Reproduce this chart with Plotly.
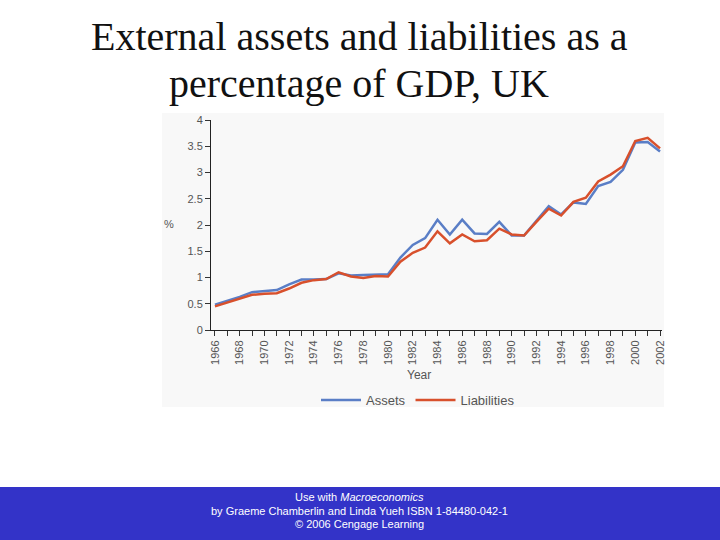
import plotly.graph_objects as go

years = list(range(1966, 2003))
assets = [0.48, 0.55, 0.63, 0.72, 0.74, 0.76, 0.87, 0.96, 0.96, 0.97,
          1.08, 1.04, 1.05, 1.06, 1.06, 1.38, 1.62, 1.75, 2.10, 1.82,
          2.10, 1.84, 1.83, 2.06, 1.80, 1.80, 2.08, 2.36, 2.20, 2.43,
          2.40, 2.74, 2.82, 3.05, 3.57, 3.58, 3.40]
liabilities = [0.45, 0.52, 0.60, 0.67, 0.69, 0.70, 0.79, 0.90, 0.95, 0.97,
               1.10, 1.02, 0.99, 1.03, 1.02, 1.30, 1.47, 1.57, 1.88, 1.65,
               1.82, 1.69, 1.71, 1.93, 1.82, 1.80, 2.06, 2.31, 2.18, 2.44,
               2.52, 2.83, 2.96, 3.12, 3.60, 3.66, 3.46]
tick_years = list(range(1966, 2003, 2))
y_ticks = [0, 0.5, 1, 1.5, 2, 2.5, 3, 3.5, 4]
y_tick_text = ["0", "0.5", "1", "1.5", "2", "2.5", "3", "3.5", "4"]

W, H = 720, 540
L, R, T, B = 211, 662, 120, 330  # plot area in pixels


def px(x):
    return (x - L) / (R - L)


def py(y):
    return (B - y) / (B - T)


def note(text, x, y, size, color, family="Liberation Sans"):
    return dict(text=text, x=px(x), y=py(y), xref="paper", yref="paper",
                showarrow=False, xanchor="center", yanchor="middle",
                font=dict(family=family, size=size, color=color))


fig = go.Figure()
fig.add_trace(go.Scatter(x=years, y=assets, mode="lines", name="Assets",
                         line=dict(color="#5a7ec6", width=2.5)))
fig.add_trace(go.Scatter(x=years, y=liabilities, mode="lines", name="Liabilities",
                         line=dict(color="#d8502c", width=2.5)))

shapes = [
    dict(type="rect", xref="paper", yref="paper", x0=px(162), x1=px(664),
         y0=py(113), y1=py(407), fillcolor="#f8f8f8", line=dict(width=0),
         layer="below"),
    dict(type="rect", xref="paper", yref="paper", x0=px(0), x1=px(720),
         y0=py(487), y1=py(541), fillcolor="#3333c8", line=dict(width=0),
         layer="below"),
]

annotations = [
    note("External assets and liabilities as a", 359, 36, 40, "#111", "Liberation Serif"),
    note("percentage of GDP, UK", 359, 84, 40, "#111", "Liberation Serif"),
    note("%", 169, 224, 11, "#555"),
    note("Year", 419, 375, 12, "#555"),
    note("Use with <i>Macroeconomics</i>", 359, 497, 11, "white"),
    note("by Graeme Chamberlin and Linda Yueh ISBN 1-84480-042-1", 359, 511, 11, "white"),
    note("© 2006 Cengage Learning", 359, 524, 11, "white"),
]

fig.update_layout(
    width=W, height=H,
    margin=dict(l=L, r=W - R, t=T, b=H - B, pad=0),
    paper_bgcolor="white", plot_bgcolor="rgba(0,0,0,0)",
    shapes=shapes, annotations=annotations,
    showlegend=True,
    legend=dict(orientation="h", x=px(418), y=py(400), xanchor="center", yanchor="middle",
                font=dict(family="Liberation Sans", size=13, color="#555"),
                bgcolor="rgba(0,0,0,0)", itemwidth=40, tracegroupgap=0),
    font=dict(family="Liberation Sans", color="#555"),
)
fig.update_xaxes(range=[1965.68, 2002.16], tickvals=tick_years, ticktext=[str(y) for y in tick_years],
                 tickangle=-90, ticks="outside", ticklen=5, tickcolor="#333",
                 tickfont=dict(size=11, color="#555"),
                 minor=dict(tickvals=years, ticks="outside", ticklen=5, tickcolor="#333"),
                 showline=True, linecolor="#222", linewidth=1, showgrid=False, zeroline=False)
fig.update_yaxes(range=[0, 4], tickvals=y_ticks, ticktext=y_tick_text,
                 ticks="outside", ticklen=5, tickcolor="#333",
                 tickfont=dict(size=11, color="#555"),
                 showline=True, linecolor="#222", linewidth=1, showgrid=False, zeroline=False)

fig.write_html("out.html")
